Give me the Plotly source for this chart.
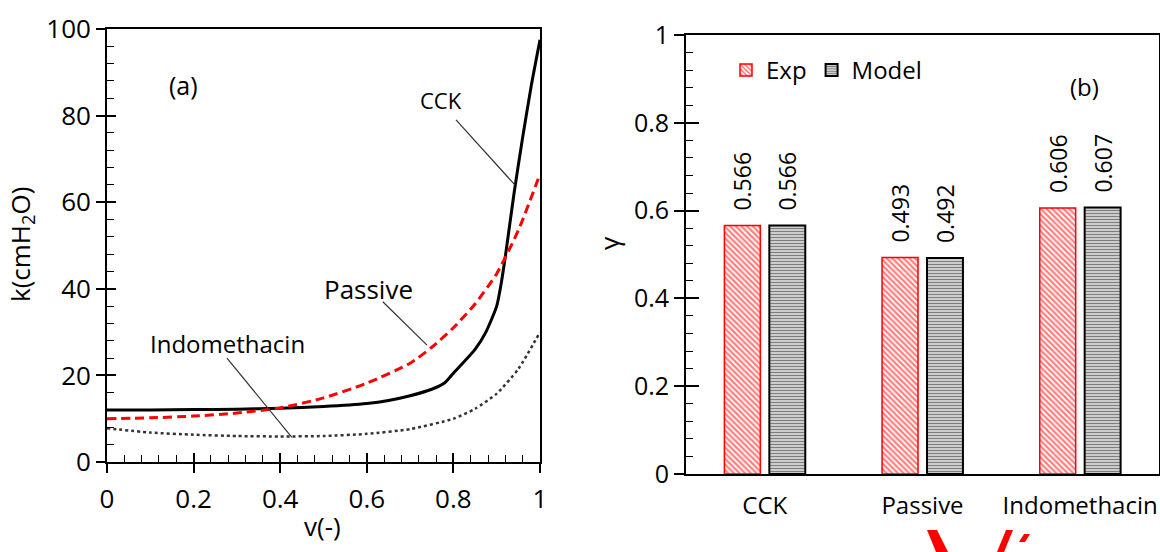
import plotly.graph_objects as go

# ---------------- data: panel (a) ----------------
v_cck = [0, 0.1, 0.2, 0.3, 0.4, 0.5, 0.6, 0.65, 0.7, 0.75, 0.78, 0.8, 0.85, 0.875, 0.9, 0.91, 0.92, 0.94, 0.96, 0.98, 1.0]
k_cck = [12.0, 12.0, 12.1, 12.2, 12.4, 12.8, 13.5, 14.2, 15.3, 16.8, 18.3, 20.5, 26.0, 30.0, 36.0, 41.0, 47.5, 62.0, 75.0, 87.0, 97.5]

v_passive = [0, 0.1, 0.2, 0.3, 0.4, 0.5, 0.6, 0.7, 0.75, 0.8, 0.85, 0.9, 0.95, 1.0]
k_passive = [10.0, 10.2, 10.6, 11.3, 12.5, 14.8, 18.2, 22.8, 26.5, 31.0, 36.5, 43.5, 53.5, 66.5]

v_indo = [0, 0.1, 0.2, 0.3, 0.4, 0.5, 0.6, 0.7, 0.8, 0.85, 0.9, 0.95, 1.0]
k_indo = [7.8, 6.8, 6.3, 6.0, 5.9, 6.0, 6.5, 7.6, 10.0, 12.3, 15.8, 21.5, 30.0]

# ---------------- data: panel (b) ----------------
categories = ["CCK", "Passive", "Indomethacin"]
gamma_exp = [0.566, 0.493, 0.606]
gamma_model = [0.566, 0.492, 0.607]

FONT = "Open Sans"
W, H = 1160, 552

def px(x):
    return x / W

def py(y):
    return 1 - y / H

fig = go.Figure()

# panel (a) curves
fig.add_trace(go.Scatter(x=v_cck, y=k_cck, mode="lines", line=dict(color="black", width=3, shape="spline", smoothing=0.6),
                         xaxis="x", yaxis="y", showlegend=False))
fig.add_trace(go.Scatter(x=v_passive, y=k_passive, mode="lines",
                         line=dict(color="#ff0000", width=3, dash="9px,5px", shape="spline", smoothing=0.6),
                         xaxis="x", yaxis="y", showlegend=False))
fig.add_trace(go.Scatter(x=v_indo, y=k_indo, mode="lines",
                         line=dict(color="#333333", width=2.5, dash="dot", shape="spline", smoothing=0.6),
                         xaxis="x", yaxis="y", showlegend=False))

# panel (b) bars
lblfont = dict(family=FONT, size=23, color="black")
PAD = "\u00a0\u00a0"
fig.add_trace(go.Bar(x=categories, y=gamma_exp, name="Exp", xaxis="x2", yaxis="y2",
                     marker=dict(color="white", line=dict(color="#ff0000", width=1.5),
                                 pattern=dict(shape="\\", fgcolor="#ff0000", bgcolor="white", size=4, solidity=0.55)),
                     text=[PAD + f"{v:.3f}" for v in gamma_exp], textposition="outside", textangle=-90,
                     constraintext="none", textfont=lblfont, cliponaxis=False))
fig.add_trace(go.Bar(x=categories, y=gamma_model, name="Model", xaxis="x2", yaxis="y2",
                     marker=dict(color="white", line=dict(color="black", width=2),
                                 pattern=dict(shape="-", fgcolor="black", bgcolor="white", size=3, solidity=0.6)),
                     text=[PAD + f"{v:.3f}" for v in gamma_model], textposition="outside", textangle=-90,
                     constraintext="none", textfont=lblfont, cliponaxis=False))

tickfont = dict(family=FONT, size=26, color="black")

# axis domains
xa_dom = [px(107), px(540)]
ya_dom = [py(462), py(29)]
xb_dom = [px(686), px(1159)]
yb_dom = [py(474), py(35)]

common = dict(showgrid=False, zeroline=False, automargin=False)

def inner_axis(dom, anchor, over, rng, dtick, length, width):
    return dict(domain=dom, anchor=anchor, overlaying=over, range=rng, tick0=0, dtick=dtick,
                ticks="inside", ticklen=length, tickwidth=width, tickcolor="black",
                showticklabels=False, showline=False, **common)

fig.update_layout(
    width=W, height=H, margin=dict(l=0, r=0, t=0, b=0, autoexpand=False),
    paper_bgcolor="white", plot_bgcolor="white",
    font=dict(family=FONT, color="black"),
    bargap=0.43, bargroupgap=0.2, barmode="group",
    xaxis=dict(domain=xa_dom, anchor="y", range=[0, 1], tick0=0, dtick=0.2, tickformat="~g",
               ticks="outside", ticklen=9, tickwidth=1.5, tickcolor="black",
               showline=True, linecolor="black", linewidth=1.8, mirror=True,
               tickfont=tickfont, ticklabelstandoff=4, **common),
    xaxis3=inner_axis(xa_dom, "y", "x", [0, 1], 0.2, 9, 1.5),
    xaxis4=inner_axis(xa_dom, "y", "x", [0, 1], 0.04, 7, 1.2),
    yaxis=dict(domain=ya_dom, anchor="x", range=[0, 100], dtick=20,
               ticks="outside", ticklen=9, tickwidth=1.5, tickcolor="black",
               showline=True, linecolor="black", linewidth=1.8, mirror=True,
               tickfont=tickfont, **common),
    yaxis3=inner_axis(ya_dom, "x", "y", [0, 100], 20, 9, 1.5),
    yaxis5=inner_axis(ya_dom, "x", "y", [0, 100], 4, 7, 1.2),
    xaxis2=dict(domain=xb_dom, anchor="y2", range=[-0.5, 2.5], ticks="",
                showline=True, linecolor="black", linewidth=1.8, mirror=True,
                tickfont=dict(family=FONT, size=24, color="black"), ticklabelstandoff=9, **common),
    yaxis2=dict(domain=yb_dom, anchor="x2", range=[0, 1], dtick=0.2, tickformat="~g",
                ticks="outside", ticklen=10, tickwidth=1.5, tickcolor="black",
                showline=True, linecolor="black", linewidth=1.8, mirror=True,
                tickfont=dict(family=FONT, size=25, color="black"), **common),
    yaxis4=inner_axis(yb_dom, "x2", "y2", [0, 1], 0.2, 13, 1.5),
    yaxis6=inner_axis(yb_dom, "x2", "y2", [0, 1], 0.04, 7, 1.2),
    legend=dict(orientation="h", x=px(726), y=py(48), xanchor="left", yanchor="top",
                bgcolor="rgba(0,0,0,0)", font=dict(family=FONT, size=24, color="black"),
                itemwidth=30, tracegroupgap=0),
)

# dummy traces to activate overlay axes
fig.add_trace(go.Scatter(x=[None], y=[None], xaxis="x3", yaxis="y", showlegend=False, hoverinfo="skip"))
fig.add_trace(go.Scatter(x=[None], y=[None], xaxis="x4", yaxis="y", showlegend=False, hoverinfo="skip"))
fig.add_trace(go.Scatter(x=[None], y=[None], xaxis="x", yaxis="y3", showlegend=False, hoverinfo="skip"))
fig.add_trace(go.Scatter(x=[None], y=[None], xaxis="x", yaxis="y5", showlegend=False, hoverinfo="skip"))
fig.add_trace(go.Scatter(x=[None], y=[None], xaxis="x2", yaxis="y4", showlegend=False, hoverinfo="skip"))
fig.add_trace(go.Scatter(x=[None], y=[None], xaxis="x2", yaxis="y6", showlegend=False, hoverinfo="skip"))

def ann(x, y, text, size, xref="paper", yref="paper", angle=0):
    return dict(x=x, y=y, xref=xref, yref=yref, text=text, showarrow=False, textangle=angle,
                xanchor="center", yanchor="middle", font=dict(family=FONT, size=size, color="black"))

annotations = [
    ann(0.176, 87, "(a)", 25, "x", "y"),
    ann(0.771, 83.5, "CCK", 22, "x", "y"),
    ann(0.603, 40, "Passive", 26, "x", "y"),
    ann(0.279, 27.3, "Indomethacin", 24, "x", "y"),
    ann(px(322), py(526), "v(-)", 26),
    ann(px(21), py(245), "k(cmH<sub>2</sub>O)", 26, angle=-90),
    ann(px(609), py(243), "γ", 26, angle=-90),
    ann(px(1084), py(86), "(b)", 24),
]
fig.update_layout(annotations=annotations)

# leader lines for the curve labels
leader = dict(color="#333333", width=1.2)
shapes = [
    dict(type="line", xref="x", yref="y", x0=0.806, y0=79, x1=0.942, y1=64, line=leader),
    dict(type="line", xref="x", yref="y", x0=0.637, y0=37, x1=0.739, y1=27, line=leader),
    dict(type="line", xref="x", yref="y", x0=0.277, y0=24, x1=0.427, y1=5.7, line=leader),
    # red fragments at the bottom edge of the picture
    dict(type="path", xref="paper", yref="paper",
         path=f"M {px(927)},{py(530)} L {px(937)},{py(530)} L {px(948)},{py(552)} L {px(936)},{py(552)} Z",
         fillcolor="#ff0000", line=dict(width=0)),
    dict(type="path", xref="paper", yref="paper",
         path=f"M {px(1006)},{py(530)} L {px(1013)},{py(530)} L {px(1004)},{py(552)} L {px(997)},{py(552)} Z",
         fillcolor="#ff0000", line=dict(width=0)),
    dict(type="path", xref="paper", yref="paper",
         path=f"M {px(1024)},{py(534)} L {px(1030)},{py(534)} L {px(1025)},{py(542)} L {px(1019)},{py(542)} Z",
         fillcolor="#ff0000", line=dict(width=0)),
]
fig.update_layout(shapes=shapes)

fig.write_html("out.html")
